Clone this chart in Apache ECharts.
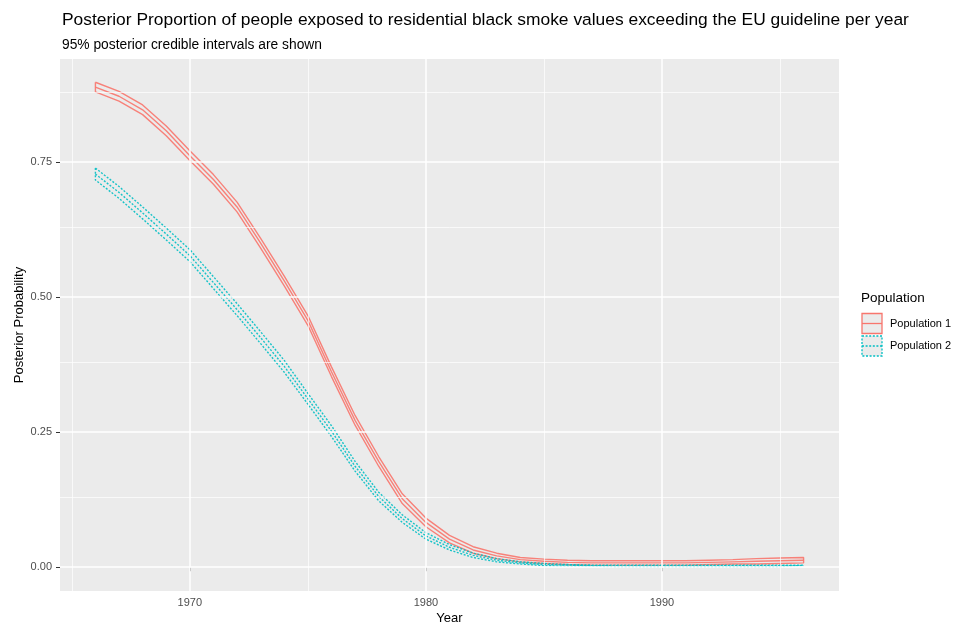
<!DOCTYPE html>
<html><head><meta charset="utf-8">
<script src="https://cdn.jsdelivr.net/npm/echarts@6/dist/echarts.min.js"></script>
<style>html,body{margin:0;padding:0;background:#fff}#c{width:958px;height:625px}</style>
</head><body><div id="c"></div>
<script>
const years = [1966,1967,1968,1969,1970,1971,1972,1973,1974,1975,1976,1977,1978,1979,1980,1981,1982,1983,1984,1985,1986,1987,1988,1989,1990,1991,1992,1993,1994,1995,1996];
const pop1Mid   = [0.889,0.872,0.847,0.808,0.762,0.718,0.667,0.600,0.530,0.457,0.362,0.272,0.196,0.127,0.083,0.052,0.032,0.021,0.014,0.011,0.009,0.008,0.008,0.008,0.008,0.008,0.009,0.010,0.011,0.012,0.013];
const pop1Lower = [0.880,0.863,0.838,0.799,0.753,0.709,0.658,0.591,0.521,0.448,0.353,0.263,0.187,0.118,0.075,0.045,0.026,0.016,0.010,0.007,0.005,0.004,0.004,0.004,0.004,0.004,0.005,0.006,0.006,0.007,0.008];
const pop1Upper = [0.898,0.881,0.856,0.817,0.771,0.727,0.676,0.609,0.539,0.466,0.371,0.281,0.205,0.136,0.091,0.059,0.038,0.026,0.018,0.015,0.013,0.012,0.012,0.012,0.012,0.012,0.013,0.014,0.016,0.017,0.018];
const pop2Mid   = [0.728,0.694,0.656,0.617,0.577,0.527,0.477,0.425,0.372,0.312,0.252,0.187,0.131,0.090,0.058,0.037,0.022,0.013,0.008,0.005,0.004,0.003,0.003,0.003,0.003,0.003,0.003,0.003,0.003,0.003,0.003];
const pop2Lower = [0.717,0.683,0.645,0.606,0.566,0.516,0.466,0.414,0.361,0.302,0.242,0.178,0.123,0.083,0.052,0.032,0.018,0.010,0.006,0.003,0.002,0.002,0.001,0.001,0.001,0.001,0.001,0.001,0.001,0.001,0.001];
const pop2Upper = [0.739,0.705,0.667,0.628,0.588,0.538,0.488,0.436,0.383,0.322,0.262,0.196,0.139,0.097,0.064,0.042,0.026,0.016,0.010,0.007,0.005,0.004,0.004,0.004,0.004,0.004,0.004,0.004,0.004,0.004,0.004];
const xTicks = [1970,1980,1990];
const xMinor = [1965,1975,1985,1995];
const yTicks = [0,0.25,0.5,0.75];
const yMinor = [0.125,0.375,0.625,0.875];
const seriesNames = ['Population 1','Population 2'];
const legendTitle = 'Population';

const RED = '#F8766D', BLUE = '#00BFC4';
const FONT = 'Liberation Sans, Arial, sans-serif';

function ribbon(lower, upper) {
  const pts = [];
  for (let i = 0; i < years.length; i++) pts.push([years[i], upper[i]]);
  for (let i = years.length - 1; i >= 0; i--) pts.push([years[i], lower[i]]);
  pts.push([years[0], upper[0]]);
  return pts;
}
function line(vals) { return years.map((y, i) => [y, vals[i]]); }

const chart = echarts.init(document.getElementById('c'), null, {renderer: 'canvas'});
const gridLine = (vals, axis, w) => vals.map(v => ({[axis]: v, lineStyle: {color: '#fff', width: w, type: 'solid'}}));

const redStyle = {color: RED, width: 1.4, type: 'solid', opacity: 0.9};
const blueStyle = {color: BLUE, width: 1.4, type: [2, 1.6], opacity: 0.9};

chart.setOption({
  animation: false,
  backgroundColor: '#fff',
  title: [
    {text: 'Posterior Proportion of people exposed to residential black smoke values exceeding the EU guideline per year', left: 62, top: 12, padding: 0, textStyle: {fontFamily: FONT, fontSize: 17.4, fontWeight: 'normal', color: '#000'}},
    {text: '95% posterior credible intervals are shown', left: 62, top: 38, padding: 0, textStyle: {fontFamily: FONT, fontSize: 13.8, fontWeight: 'normal', color: '#000'}}
  ],
  grid: {left: 60, right: 119, top: 59, bottom: 34, show: true, backgroundColor: '#EBEBEB', borderWidth: 0, containLabel: false, outerBoundsMode: 'none'},
  xAxis: {
    type: 'value', min: 1964.5, max: 1997.5,
    name: 'Year', nameLocation: 'middle', nameGap: 21, nameMoveOverlap: false,
    nameTextStyle: {fontFamily: FONT, fontSize: 13, color: '#000'},
    axisLine: {show: false},
    axisTick: {show: true, length: 4, lineStyle: {color: '#333'}, customValues: xTicks},
    axisLabel: {fontFamily: FONT, fontSize: 11, color: '#4D4D4D', margin: 6, customValues: xTicks, formatter: v => String(v)},
    splitLine: {show: false}
  },
  yAxis: {
    type: 'value', min: -0.044, max: 0.941,
    name: 'Posterior Probability', nameLocation: 'middle', nameGap: 34, nameMoveOverlap: false,
    nameTextStyle: {fontFamily: FONT, fontSize: 13, color: '#000'},
    axisLine: {show: false},
    axisTick: {show: true, length: 4, lineStyle: {color: '#333'}, customValues: yTicks},
    axisLabel: {fontFamily: FONT, fontSize: 11, color: '#4D4D4D', margin: 8, customValues: yTicks, formatter: v => v.toFixed(2)},
    splitLine: {show: false}
  },
  series: [
    {type: 'line', data: [], z: 1, silent: true,
     markLine: {silent: true, symbol: 'none', label: {show: false}, animation: false,
       data: gridLine(xMinor, 'xAxis', 0.7).concat(gridLine(yMinor, 'yAxis', 0.7))}},
    {type: 'line', data: [], z: 1, silent: true,
     markLine: {silent: true, symbol: 'none', label: {show: false}, animation: false,
       data: gridLine(xTicks, 'xAxis', 1.5).concat(gridLine(yTicks, 'yAxis', 1.5))}},
    {name: seriesNames[0], type: 'line', z: 3, showSymbol: false, symbol: 'none', data: ribbon(pop1Lower, pop1Upper), lineStyle: redStyle},
    {name: seriesNames[0], type: 'line', z: 3, showSymbol: false, symbol: 'none', data: line(pop1Mid), lineStyle: redStyle},
    {name: seriesNames[1], type: 'line', z: 3, showSymbol: false, symbol: 'none', data: ribbon(pop2Lower, pop2Upper), lineStyle: blueStyle},
    {name: seriesNames[1], type: 'line', z: 3, showSymbol: false, symbol: 'none', data: line(pop2Mid), lineStyle: blueStyle}
  ],
  graphic: [
    {type: 'text', left: 861, top: 291, style: {text: legendTitle, font: '13.5px ' + FONT, fill: '#000'}},
    {type: 'rect', shape: {x: 862, y: 313.5, width: 20, height: 20}, style: {fill: '#EBEBEB', stroke: RED, lineWidth: 1.3}},
    {type: 'line', shape: {x1: 862, y1: 323.5, x2: 882, y2: 323.5}, style: {stroke: RED, lineWidth: 1.3}},
    {type: 'text', left: 890, top: 318.5, style: {text: seriesNames[0], font: '11px ' + FONT, fill: '#000'}},
    {type: 'rect', shape: {x: 862, y: 336, width: 20, height: 20}, style: {fill: '#EBEBEB', stroke: BLUE, lineWidth: 1.3, lineDash: [2, 1.6]}},
    {type: 'line', shape: {x1: 862, y1: 346, x2: 882, y2: 346}, style: {stroke: BLUE, lineWidth: 1.3, lineDash: [2, 1.6]}},
    {type: 'text', left: 890, top: 340.5, style: {text: seriesNames[1], font: '11px ' + FONT, fill: '#000'}}
  ]
});
</script>
</body></html>
